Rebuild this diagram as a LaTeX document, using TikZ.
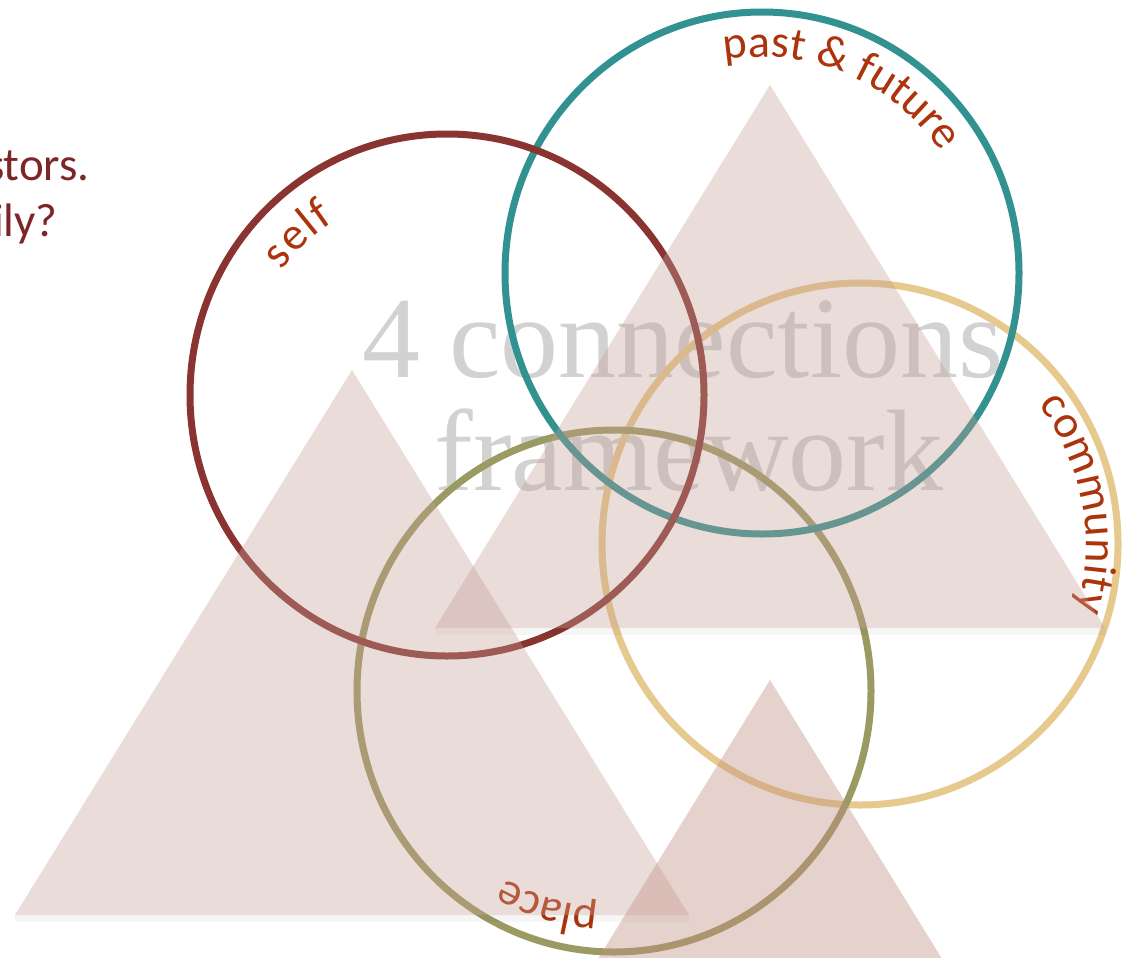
\documentclass[tikz,border=0pt]{standalone}
\usepackage{fontspec}
\setmainfont{Liberation Serif}
\newfontfamily\labfont{Carlito}
\usetikzlibrary{decorations.text}
\definecolor{selfc}{RGB}{137,52,48}
\definecolor{tealc}{RGB}{50,145,145}
\definecolor{commc}{RGB}{230,201,140}
\definecolor{placec}{RGB}{155,154,98}
\definecolor{rust}{RGB}{172,52,12}
\definecolor{bigtext}{RGB}{210,210,210}
\definecolor{slidetext}{RGB}{123,38,40}
\definecolor{trifill}{RGB}{197,158,150}
\definecolor{trifilltwo}{RGB}{193,143,130}
\tikzset{
  ring/.style={line width=7pt},
  tri/.style={fill=trifill, fill opacity=0.36},
  tritwo/.style={fill=trifilltwo, fill opacity=0.40},
  bigword/.style={text=bigtext, inner sep=0pt, font=\fontsize{116}{116}\selectfont},
  slideword/.style={text=slidetext, inner sep=0pt, font=\labfont\fontsize{47}{47}\selectfont},
  arclabel/.style={decorate, decoration={text along path, text align={fit to path}, text color=rust, text={|\labfont\fontsize{46}{46}\selectfont|#1}}}
}
\begin{document}
\begin{tikzpicture}[x=1pt,y=1pt]
\useasboundingbox (0,-958) rectangle (1127,0);
\fill[white] (0,-958) rectangle (1127,0);

% cut-off slide text
\node[slideword, anchor=base east] (s1) at (90,-180) {stors.};
\node[slideword, anchor=base east] (s2) at (58,-236) {ily?};

% big title
\node[bigword, anchor=base] (t1) at (683,-377) {4 connections};
\node[bigword, anchor=base] (t2) at (689,-490) {framework};

% circles
\draw[ring, commc] (860,-544) ellipse [x radius=258, y radius=261];
\draw[ring, placec] (614,-691) ellipse [x radius=257, y radius=261];
\draw[ring, tealc] (762,-273) ellipse [x radius=257, y radius=261];
\draw[ring, selfc] (447,-395) ellipse [x radius=257, y radius=261];

% curved labels
\path[arclabel={self}] (447,-395) ++(143:207) arc[start angle=143, end angle=123, radius=207];
\path[arclabel={past {\&} future}] (762,-273) ++(100:216) arc[start angle=100, end angle=34, radius=216];
\path[arclabel={community}] (860,-544) ++(38:226) arc[start angle=38, end angle=-17, radius=226];
\path[arclabel={place}] (614,-691) ++(-94:217) arc[start angle=-94, end angle=-120, radius=217];

% triangles (on top, translucent)
\begin{scope}
\clip (0,-958) rectangle (1127,0);
\fill[black, opacity=0.035] (15,-915) rectangle (689,-922);
\fill[black, opacity=0.035] (435,-628) rectangle (1105,-635);
\fill[tri] (15,-915) -- (352,-370) -- (689,-915) -- cycle;
\fill[tri] (435,-628) -- (770,-85) -- (1105,-628) -- cycle;
\fill[tritwo] (435,-1223) -- (770,-680) -- (1105,-1223) -- cycle;
\end{scope}
\end{tikzpicture}
\end{document}
